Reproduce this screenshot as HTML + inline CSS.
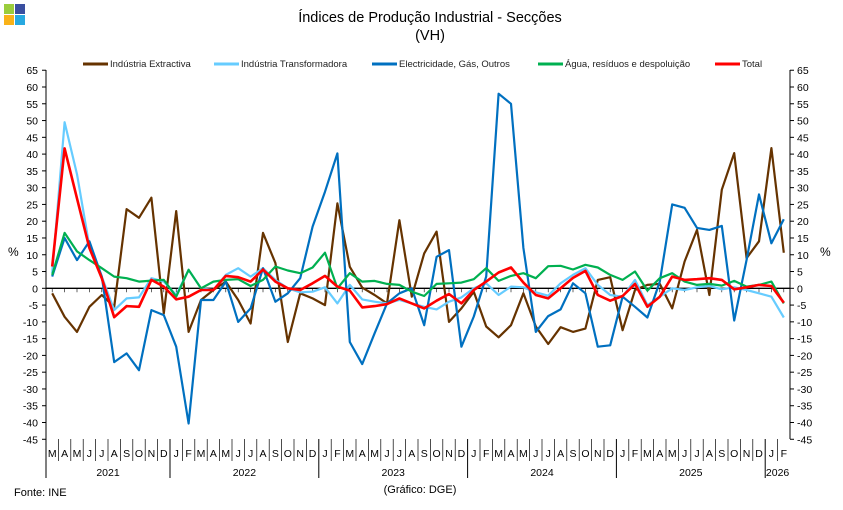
<!DOCTYPE html>
<html><head><meta charset="utf-8"><style>
html,body{margin:0;padding:0;background:#fff}
svg{display:block;font-family:"Liberation Sans",Arial,sans-serif}
</style></head><body>
<svg id="c" width="843" height="510" xmlns="http://www.w3.org/2000/svg">
<rect x="4" y="4" width="10" height="10" fill="#9acd3c"/>
<rect x="15" y="4" width="10" height="10" fill="#3a4fa0"/>
<rect x="4" y="15" width="10" height="10" fill="#f9b218"/>
<rect x="15" y="15" width="10" height="10" fill="#27a9e1"/>
<text x="430" y="22" font-size="14.5" text-anchor="middle" fill="#000">Índices de Produção Industrial - Secções</text>
<text x="430" y="40" font-size="14.5" text-anchor="middle" fill="#000">(VH)</text>
<g font-size="9.5" fill="#222">
<line x1="83" y1="64" x2="108" y2="64" stroke="#663300" stroke-width="3"/><text x="110" y="67">Indústria Extractiva</text>
<line x1="214" y1="64" x2="239" y2="64" stroke="#66ccff" stroke-width="3"/><text x="241" y="67">Indústria Transformadora</text>
<line x1="372" y1="64" x2="397" y2="64" stroke="#0070c0" stroke-width="3"/><text x="399" y="67">Electricidade, Gás, Outros</text>
<line x1="538" y1="64" x2="563" y2="64" stroke="#00b050" stroke-width="3"/><text x="565" y="67">Água, resíduos e despoluição</text>
<line x1="715" y1="64" x2="740" y2="64" stroke="#ff0000" stroke-width="3"/><text x="742" y="67">Total</text>
</g>
<text x="8" y="256" font-size="12">%</text>
<text x="820" y="256" font-size="12">%</text>
<text x="14" y="496" font-size="11">Fonte: INE</text>
<text x="420" y="493" font-size="11" text-anchor="middle">(Gráfico: DGE)</text>
<g id="g"></g>
</svg>
<script>
var g=document.getElementById('g'),h='';
var L=46,R=790,T=70,B=439,Z=288.3,K=3.355,S=12.4;
function Y(v){return Z-v*K}
function X(i){return L+S/2+S*i}
h+='<line x1="'+L+'" y1="'+T+'" x2="'+L+'" y2="478" stroke="#000" stroke-width="1"/>';
h+='<line x1="'+R+'" y1="'+T+'" x2="'+R+'" y2="'+B+'" stroke="#000" stroke-width="1"/>';
h+='<line x1="'+L+'" y1="'+Z+'" x2="'+R+'" y2="'+Z+'" stroke="#000" stroke-width="1.3"/>';
for(var v=65;v>=-45;v-=5){var y=Y(v);
h+='<line x1="'+(L-4)+'" y1="'+y+'" x2="'+L+'" y2="'+y+'" stroke="#000"/>';
h+='<line x1="'+R+'" y1="'+y+'" x2="'+(R+4)+'" y2="'+y+'" stroke="#000"/>';
h+='<text x="'+(L-8)+'" y="'+(y+4)+'" font-size="10.5" text-anchor="end">'+v+'</text>';
h+='<text x="'+(R+7)+'" y="'+(y+4)+'" font-size="10.5">'+v+'</text>';}
var mm=['J','F','M','A','M','J','J','A','S','O','N','D'];
for(var i=0;i<60;i++){var mo=(i+2)%12;var x=L+S*i;
if(i>0){h+='<line x1="'+x+'" y1="'+B+'" x2="'+x+'" y2="'+(mo==0?478:461)+'" stroke="#000" stroke-width="'+(mo==0?1:0.7)+'"/>';}
h+='<line x1="'+X(i)+'" y1="'+(Z)+'" x2="'+X(i)+'" y2="'+(Z+4)+'" stroke="#000" stroke-width="0.6"/>';
h+='<text x="'+X(i)+'" y="457" font-size="10.5" text-anchor="middle">'+mm[mo]+'</text>';}
var yrs=[[2021,0,10],[2022,10,22],[2023,22,34],[2024,34,46],[2025,46,58],[2026,58,60]];
yrs.forEach(function(a){h+='<text x="'+(L+S*(a[1]+a[2])/2)+'" y="476" font-size="10.5" text-anchor="middle">'+a[0]+'</text>';});
var D={
"#663300":[-1.5,-8.5,-13,-5.5,-2,-5.5,23.6,21,27,-7.5,23,-13,-3.5,-0.5,2,-3.5,-10.5,16.5,7.5,-16,-1.5,-3,-5,25.3,6.4,0.2,-2,-4.5,20.3,-2.5,10.4,16.9,-10,-6,-1,-11.4,-14.6,-11,-1.5,-11.4,-16.6,-11.6,-13,-12,2.5,3.3,-12.5,-0.5,1,1.3,-6,8,17.4,-2,29.4,40.3,9,14,41.8,10.6],
"#66ccff":[4.5,49.5,34,12.5,3.5,-6.5,-3,-2.7,3,2,-2,5.5,0,-0.5,4,6,3.5,6,2.5,0,-1.2,-1,0.3,-4.5,1,-3.3,-4,-4.5,-3.5,-4.5,-5.5,-6.3,-4,-2.7,0,1.5,-2,0.5,0.3,-1.2,-2.2,1.5,4,6,1,-2,-2.5,2.5,-5,-2.5,0,-0.5,0.3,0.7,-0.3,0.3,-0.5,-1.5,-2.5,-8.7],
"#0070c0":[3.5,15,8.4,14,3.5,-22,-19.4,-24.4,-6.5,-8,-17.4,-40.3,-3.5,-3.5,2,-10,-6,6,-4,-1.5,3,18.4,28.8,40.2,-16,-22.6,-13.4,-4.5,-1.5,0,-11,9.4,11.4,-17.4,-8.4,3.5,58,55,12,-13,-8.3,-6.3,1.5,-1.5,-17.4,-17,-2.5,-5.5,-8.7,2,25,24,18,17.4,18.6,-9.6,8.5,28,13.4,20.6],
"#00b050":[4,16.5,11,8.4,6,3.5,3,2,2.3,2.5,-2.5,5.5,0,2,2.5,2.7,0.7,2.5,6.5,5.3,4.5,6.2,10.6,0,4.5,2,2.2,1.3,1,-1,-2.3,1.3,1.5,1.7,2.7,6,2.2,3.7,4.5,3,6.6,6.7,5.6,7,6.2,4,2.5,5,-0.7,3,4.5,2,1,1.3,0.8,2.2,0.5,1,2,-4.5],
"#ff0000":[6.5,41.7,26.8,12,3,-8.6,-5.3,-5.5,2.5,0.5,-3.3,-2.5,-0.5,-0.5,3.7,3.3,2,5.6,2,0,-0.5,1.5,3.7,0.5,-0.7,-5.7,-5.3,-4.7,-3,-4.5,-6,-3.7,-1.7,-4.5,-0.5,2,4.7,6.2,1.7,-2,-3,0,3.1,5.2,-2,-3.7,-2.3,1.3,-5.5,-2.5,3.5,2.5,2.7,3,2.5,-0.3,0.3,1,0.7,-4.3]};
["#663300","#66ccff","#0070c0","#00b050","#ff0000"].forEach(function(c){
var p=D[c].map(function(v,i){return X(i).toFixed(1)+','+Y(v).toFixed(1)}).join(' ');
h+='<polyline points="'+p+'" fill="none" stroke="'+c+'" stroke-width="'+(c=="#ff0000"?2.6:2.2)+'" stroke-linejoin="round"/>';});
g.innerHTML=h;
</script>
</body></html>
